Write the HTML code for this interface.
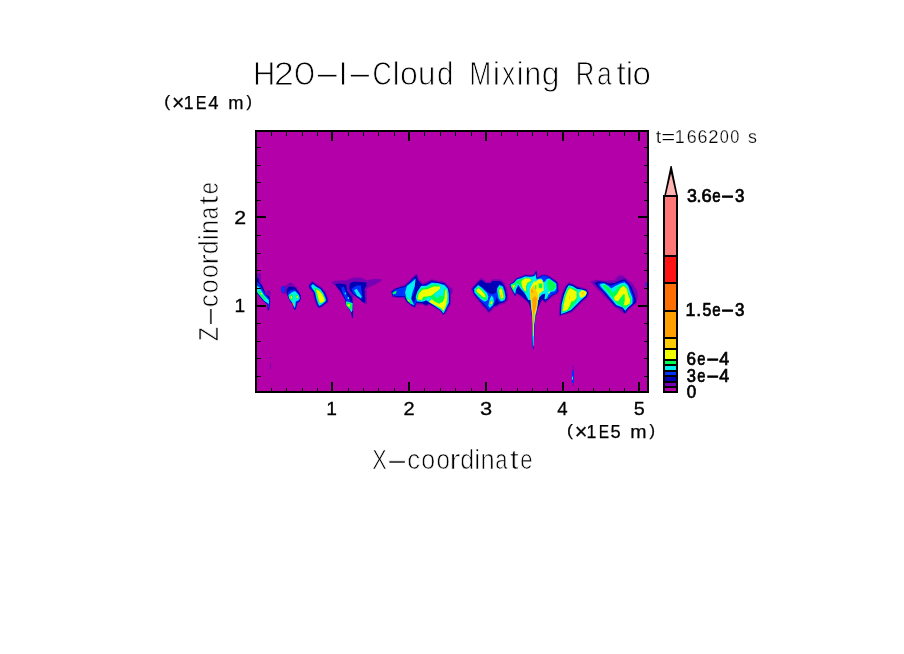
<!DOCTYPE html>
<html lang="en"><head><meta charset="utf-8"><title>H2O-I-Cloud Mixing Ratio</title>
<style>html,body{margin:0;padding:0;background:#fff;overflow:hidden}svg{display:block}text{white-space:pre}</style>
</head><body>
<svg width="904" height="654" viewBox="0 0 904 654" font-family="'Liberation Sans', Arial, sans-serif" fill="#000">
<rect width="904" height="654" fill="#fff"/>
<rect x="255" y="130" width="394" height="263" fill="#b400a8"/>
<g id="clouds">
<polygon fill="#7800b4" points="257.02,273.26 260.96,273.26 260.96,283.35 257.02,283.35"/>
<polygon fill="#7800b4" points="266.01,291.15 268.76,290.23 270.78,291.61 270.6,295.73 267.84,295.28"/>
<polygon fill="#0000b4" points="257.02,277.84 258.67,278.3 259.13,282.43 261.88,284.72 266.01,294.36 269.68,296.65 270.14,301.7 269.22,309.04 268.76,310.41 267.66,309.95 267.39,304.45 265.09,302.61 261.88,299.4 257.02,293.44"/>
<polygon fill="#0032ff" points="257.02,281.97 259.13,283.35 261.88,288.39 266.01,294.82 269.5,299.4 269.5,303.53 268.76,308.12 268.03,308.12 267.84,303.99 264.63,301.24 261.88,298.49 257.02,292.98"/>
<polygon fill="#00f0f0" points="257.02,285.92 259.13,287.02 264.17,295.28 268.94,300.32 268.94,303.99 267.39,303.07 264.17,300.78 260.5,296.19 257.02,292.06"/>
<polygon fill="#00ff50" points="258.21,290.69 260.5,291.15 265.09,298.03 266.47,300.32 264.63,299.86 261.42,296.65 258.67,293.44"/>
<polygon fill="#f0ff00" points="260.69,292.98 262.16,292.98 262.34,294.54 260.87,294.36"/>
<polygon fill="#7800b4" points="280.87,287.02 282.52,285.64 285.28,285.64 288.94,283.35 291.24,281.97 293.53,284.72 298.12,288.39 295.37,289.31 287.11,292.52 285.28,294.36 282.52,293.44 280.96,291.15"/>
<polygon fill="#0032ff" points="281.15,287.94 282.52,286.28 284.54,286.56 284.91,290.69 283.62,292.52 281.79,292.06"/>
<polygon fill="#0000b4" points="286.65,289.77 289.13,286.56 291.7,286.83 295.37,287.48 298.58,291.61 300.69,295.28 300.87,298.49 299.5,301.7 297.39,303.07 295.83,309.04 294.45,310.14 293.53,308.12 292.61,304.45 290.32,301.7 288.03,297.11 286.65,293.44"/>
<polygon fill="#0032ff" points="287.57,293.44 290.05,290.5 294.45,289.59 297.94,292.98 299.95,296.19 300.14,298.94 298.85,301.24 296.74,302.16 295.37,308.12 294.45,309.04 293.35,305.37 290.78,301.24 288.49,296.65"/>
<polygon fill="#00f0f0" points="288.49,295.28 291.51,292.52 293.53,291.61 295.37,291.15 298.85,295.09 299.77,298.49 298.12,300.6 295.83,301.24 295,307.66 293.99,306.74 292.16,302.61 289.13,298.49"/>
<polygon fill="#00ff50" points="289.4,295.73 291.7,293.9 293.07,295.28 292.8,300.32 291.7,301.24 289.86,298.49"/>
<polygon fill="#00ff50" points="295.83,294.36 298.12,295.28 298.58,298.49 296.74,299.13 295.83,297.11"/>
<polygon fill="#f0ff00" points="290.6,296.19 291.88,295.73 292.06,298.49 290.96,298.76"/>
<polygon fill="#f0ff00" points="296.47,295.73 297.94,296.19 297.94,297.84 296.74,297.84"/>
<polygon fill="#ffa000" points="292.8,303.07 293.99,303.07 293.99,305.37 292.98,305.18"/>
<polygon fill="#7800b4" points="308.21,285.64 312.34,281.06 316.47,283.81 321.97,287.48 325.64,292.06 328.39,298.94 328.21,302.16 323.35,306.28 319.22,308.58 316.65,305.83 314.17,298.94 312.8,292.52 309.31,288.85"/>
<polygon fill="#0000b4" points="309.13,285.64 312.34,281.97 315.55,284.72 321.06,287.94 324.72,292.52 327.48,298.94 327.48,301.7 322.89,305.37 319.22,307.66 317.39,305.37 315.09,298.94 313.72,292.52 310.05,288.39"/>
<polygon fill="#0032ff" points="310.05,285.92 312.61,283.17 315.55,285.64 320.6,288.67 323.99,292.98 326.74,299.13 326.56,301.33 322.52,304.63 319.4,306.74 317.94,305 315.73,298.76 314.45,292.34 310.96,288.12"/>
<polygon fill="#00f0f0" points="311.15,285.73 312.98,284.27 315.73,286.56 320.32,289.31 323.35,293.44 325.83,299.13 325.64,300.96 322.16,303.99 319.59,305.73 318.49,304.45 316.47,298.58 315.18,292.16 312.06,287.94"/>
<polygon fill="#00ff50" points="313.72,288.39 316.01,287.94 320.14,290.23 322.89,294.17 325.18,299.31 324.91,300.78 321.79,303.07 319.77,303.99 318.85,302.61 317.39,298.39 315.92,292.52"/>
<polygon fill="#f0ff00" points="316.01,289.59 319.22,290.69 322.43,294.54 324.54,299.13 324.27,301.51 321.24,302.8 319.4,302.43 318.49,298.94 317.39,294.36"/>
<polygon fill="#7800b4" points="331.33,281.97 335,280.41 346.01,280.14 353.35,277.39 361.61,277.39 366.19,280.14 375.37,278.76 381.79,279.22 380.87,281.33 375.37,284.45 368.94,287.2 366.65,289.04 366.93,303.99 364.54,303.99 360.69,300.32 353.81,295.73 352.89,301.7 353.17,304.63 346.93,303.72 343.26,296.38 338.67,289.04 335,285 331.33,283.35"/>
<polygon fill="#0000b4" points="335,284.08 339.59,283.62 346.01,284.54 347.11,290.69 351.7,297.11 353.07,303.53 353.07,317.75 352.06,317.75 350.6,311.33 346.01,304.91 344.91,299.13 340.5,291.79 336.65,287.02"/>
<polygon fill="#0032ff" points="341.24,287.48 343.81,286.83 347.11,295.28 350.78,301.7 352.25,311.33 348.76,305.55 346.01,300.05 342.34,292.52"/>
<polygon fill="#00f0f0" points="344.54,292.71 345.83,292.52 346.19,294.36 344.91,294.54"/>
<polygon fill="#00f0f0" points="347.66,296.93 348.94,296.93 349.22,299.13 347.84,298.94"/>
<polygon fill="#00f0f0" points="345.83,301.24 352.61,303.07 352.43,310.87 351.33,312.25 349.68,309.22 346.38,305.55"/>
<polygon fill="#00ff50" points="346.19,301.88 352.25,303.72 351.88,309.77 349.68,308.67 346.74,305.18"/>
<polygon fill="#f0ff00" points="347.29,303.9 350.23,304.45 349.68,307.02 347.84,305.92"/>
<polygon fill="#0000b4" points="350.14,283.35 354.27,281.51 366.19,282.43 366.65,285.18 364.36,288.85 365.46,301.88 363.44,302.8 359.77,299.13 353.35,294.54 349.68,289.77 349.22,286.1"/>
<polygon fill="#0032ff" points="351.51,288.85 356.1,285.64 360.87,285.18 361.79,292.52 362.71,299.13 358.85,297.29 353.35,293.62"/>
<polygon fill="#00f0f0" points="354.08,290.23 356.65,288.85 361.42,296.19 360.87,298.21 357.02,295.46"/>
<polygon fill="#7800b4" points="391.33,292.52 396.83,287.94 404.17,284.72 408.76,281.06 415.64,274.17 417.48,273.72 418.85,278.76 422.52,283.35 431.7,279.22 438.12,280.6 445,281.97 449.13,286.56 452.8,288.85 452.8,292.52 450.96,294.36 451.15,303.99 448.21,309.04 445.28,314.08 443.44,315.64 440.41,311.79 435.37,308.3 429.13,304.63 426.19,306.47 422.52,304.63 417.02,304.27 415,308.3 411.33,306.47 406.74,302.8 403.81,298.21 398.67,298.21 392.25,297.29"/>
<polygon fill="#0000b4" points="391.33,291.61 395,288.85 400.5,287.02 405.09,286.1 408.76,282.43 413.35,277.84 416.56,275.09 417.48,279.68 419.77,281.97 422.52,284.72 427.11,283.35 431.7,280.6 438.12,281.97 444.54,283.35 447.75,287.02 450.05,291.61 450.05,303.53 447.29,308.12 445,312.71 443.62,314.54 440.87,310.87 435.37,307.2 428.94,303.53 426.19,305.37 422.52,303.53 416.1,303.07 414.72,307.2 411.51,305.37 406.93,301.7 404.17,297.11 398.67,297.11 392.71,296.19"/>
<polygon fill="#0032ff" points="392.25,292.52 395,289.77 400.5,287.94 405.09,287.02 408.76,283.35 414.72,277.84 415.37,292.52 412.43,296.19 413.81,303.53 417.94,290.69 421.61,285.64 427.11,284.45 431.7,281.7 438.12,282.89 444.54,284.27 447.29,287.48 449.31,292.06 449.31,303.07 446.83,307.66 444.54,312.25 443.62,313.62 441.06,310.14 435.55,306.47 429.13,302.8 426.19,300.78 422.52,302.16 416.28,301.7 414.27,306.1 411.7,304.45 407.39,300.96 404.63,296.19 398.67,296.19 393.17,295.46"/>
<polygon fill="#0000b4" points="416.65,275.55 417.57,280.14 419.77,282.43 419.04,287.94 415.64,295.28 413.35,301.7 411.51,298.03 414.27,292.52 415.37,283.35"/>
<polygon fill="#00ff50" points="392.25,292.98 395,291.15 396.65,290.69 396.1,293.44 393.35,294.54"/>
<polygon fill="#00f0f0" points="405.09,292.52 406.93,286.1 411.51,282.43 415.64,278.76 414.72,286.1 412.43,292.52 411.06,298.94 413.35,303.53 413.81,305.37 410.6,303.53 406.93,299.86"/>
<polygon fill="#00ff50" points="405.55,295.73 408.76,298.94 411.97,302.61 411.15,304.08 407.39,300.78"/>
<polygon fill="#f0ff00" points="407.84,298.94 410.23,301.24 408.76,301.42"/>
<polygon fill="#00f0f0" points="415.64,297.11 417.48,291.61 421.15,286.1 426.19,286.1 431.7,282.89 438.12,283.35 444.54,285.18 447.75,288.85 448.67,294.36 448.67,302.61 446.38,307.2 443.62,313.17 440.87,309.95 435.37,306.28 429.86,302.61 426.19,300.32 423.9,301.24 421.61,301.7 417.02,301.24"/>
<polygon fill="#00ff50" points="416.56,297.11 418.39,292.52 421.61,287.94 426.19,287.48 432.61,284.27 439.04,284.72 440.87,287.02 444.54,287.94 446.83,290.69 447.75,301.7 445.46,307.2 443.62,311.79 440.87,309.04 435.37,305.37 430.32,301.7 427.11,298.94 423.9,299.86 421.61,300.78 417.48,300.32"/>
<polygon fill="#f0ff00" points="417.48,299.13 418.85,293.44 422.52,289.77 427.11,289.31 433.53,286.56 440.14,286.56 440.14,289.04 435.37,292.52 431.7,295.46 427.11,296.38 423.44,296.83 421.61,300.05"/>
<polygon fill="#00f0f0" points="434.45,293.44 439.04,290.69 440.87,285.92 444.54,286.56 443.81,291.61 442.71,296.38 439.95,295.28 437.2,298.21 435.37,297.29"/>
<polygon fill="#00f0f0" points="425.28,298.94 428.94,297.11 431.7,298.49 429.86,301.24 427.11,299.86"/>
<polygon fill="#f0ff00" points="428.94,301.88 431.7,299.13 435.37,301.88 439.04,303.72 442.71,301.7 444.54,298.03 445,290.69 446.38,289.04 447.29,296.19 446.38,303.53 445,308.12 443.62,310.87 440.87,308.12 435.37,305.37"/>
<polygon fill="#7800b4" points="470.96,288.85 476.01,282.89 481.06,277.39 486.56,281.97 490.69,281.51 492.52,279.22 500.32,279.22 504.45,282.89 506.74,288.39 508.12,295.28 508.12,300.32 504.45,303.99 499.4,304.63 497.57,306.47 494.17,307.39 490.23,312.25 487.94,312.89 486.1,309.5 482.89,306.74 478.3,300.96 473.07,294.82"/>
<polygon fill="#0000b4" points="472.34,288.85 476.93,283.35 481.06,279.68 486.1,283.35 490.69,283.35 492.52,281.06 499.86,281.06 503.53,284.27 505.37,288.85 506.74,295.28 506.28,299.86 503.53,302.61 498.94,303.53 497.11,305.37 493.44,306.28 489.77,310.87 488.39,311.79 487.02,309.04 483.35,305.37 478.76,299.86 474.17,294.36"/>
<polygon fill="#0032ff" points="473.44,288.85 477.84,284.45 481.7,286.83 487.02,291.61 489.77,293.44 492.52,294.36 496.19,292.52 497.11,287.02 499.86,284.08 503.17,286.1 505,290.69 505.92,296.19 505.37,299.86 502.61,301.7 498.94,301.88 496.65,297.29 495.28,301.7 493.62,305.37 489.95,309.22 488.12,310.14 487.02,307.2 483.35,303.53 478.76,298.94 474.54,293.62"/>
<polygon fill="#00f0f0" points="474.17,289.31 478.3,285.18 481.97,287.94 487.02,292.98 488.39,296.65 487.48,300.32 484.72,301.7 481.51,299.86 477.84,296.19 474.63,292.52"/>
<polygon fill="#00ff50" points="475.55,289.77 478.3,286.56 481.51,288.85 486.1,293.9 487.02,297.11 486.56,299.86 484.72,300.32 481.51,298.49 478.3,295.28 475.83,292.06"/>
<polygon fill="#f0ff00" points="476.47,290.23 478.3,287.94 481.06,290.23 484.72,294.36 485.64,297.29 483.35,297.29 480.14,294.54 476.93,292.06"/>
<polygon fill="#00f0f0" points="488.39,305.37 489.77,298.94 491.61,295.28 493.44,298.03 493.9,301.7 492.52,305.37 489.77,308.12"/>
<polygon fill="#00ff50" points="489.31,304.45 490.69,300.32 492.52,299.86 492.98,302.61 491.61,305.37"/>
<polygon fill="#f0ff00" points="490.23,303.53 491.15,301.24 492.52,301.7 492.06,303.99"/>
<polygon fill="#00f0f0" points="497.11,288.85 499.4,285.18 502.61,286.56 504.45,291.61 505.37,297.11 504.45,300.32 500.78,301.24 498.49,298.03 497.57,293.44"/>
<polygon fill="#00ff50" points="498.21,289.31 499.86,286.56 502.16,287.94 503.72,292.06 504.45,297.11 503.53,299.4 500.96,300.05 499.4,297.11 498.49,293.44"/>
<polygon fill="#f0ff00" points="499.13,290.23 500.78,287.94 502.16,290.23 503.07,294.36 503.53,297.57 501.7,298.94 500.32,296.65 499.68,293.44"/>
<polygon fill="#ffa000" points="500.78,294.82 501.7,294.82 501.7,296.65 500.78,296.65"/>
<polygon fill="#7800b4" points="509.26,284.26 513.13,281.55 516.23,277.68 520.49,276.36 525.13,274.35 530.55,274.81 534.04,274.04 535.35,271.1 536.9,270.17 537.52,277.14 539.85,275.59 542.94,274.04 547.2,274.81 550.3,276.36 553.63,278.84 556.73,280.78 558.59,283.1 558.59,287.98 559.36,291.62 556.73,294.48 553.47,296.03 549.6,299.13 545.42,303.23 542.17,300.14 540,301.68 539.07,307.1 528.23,303.23 524.75,299.9 520.18,296.03 516.77,293.94 514.91,297.04 512.12,291.62 510.03,287.75"/>
<polygon fill="#0000b4" points="510.03,284.26 513.52,282.33 516.62,278.45 520.49,277.29 525.13,275.36 530.55,275.74 534.43,274.97 535.59,271.87 536.75,271.1 537.14,278.07 539.85,276.52 542.94,274.97 546.82,275.74 549.91,277.29 553.01,279.62 556.11,281.55 557.66,283.49 557.66,288.13 558.43,291.23 556.11,293.55 553.01,295.1 549.14,298.2 545.27,302.07 542.17,298.97 539.07,300.52 538.3,306.72 536.75,311.36 535.82,318.02 532.1,318.02 531.33,311.36 530.17,306.72 528.23,302.07 525.13,298.97 520.49,295.1 516.62,292.78 515.07,295.88 512.74,291.23 510.81,287.36"/>
<polygon fill="#0032ff" points="510.27,284.42 513.67,282.71 516.77,279 520.64,277.83 525.13,275.9 530.55,276.29 534.27,275.51 535.66,273.42 536.59,278.84 539.85,277.29 542.94,275.59 546.82,276.36 549.76,277.91 552.86,280.23 555.72,281.94 557.04,283.87 557.04,288.13 557.66,291.08 555.72,292.93 552.62,294.48 548.75,297.43 545.42,300.91 543.33,297.43 540.23,298.59 539.07,299.75 537.91,306.72 536.36,311.36 535.35,318.02 532.49,318.02 531.72,311.36 530.55,306.72 528.62,301.45 525.52,298.35 520.87,294.48 517.78,290.46 516.62,291.23 515.45,295.1 513.13,290.92 511.04,287.2"/>
<polygon fill="#0000b4" points="516.46,289.29 518.32,286.2 521.26,290.07 524.75,293.94 527.61,298.97 529.16,302.46 528.23,302.07 525.13,298.97 520.49,295.1 516.62,292.78 515.53,294.72"/>
<polygon fill="#0000b4" points="539.46,297.43 542.17,294.72 545.27,293.94 544.88,298.97 545.42,301.3 542.17,298.82 539.07,300.37"/>
<polygon fill="#00f0f0" points="510.42,284.65 513.91,283.1 517,279.62 520.87,278.45 525.13,276.52 530.55,276.91 534.04,276.13 535.59,274.97 536.36,279.62 539.85,278.45 542.17,278.84 543.72,281.94 546.04,279.62 549.14,278.45 553.01,281.16 556.11,283.49 556.49,288.13 554.56,291.23 550.69,292 548.36,295.1 546.04,298.97 544.49,298.97 545.27,293.55 542.17,294.33 539.07,297.43 537.52,305.17 535.97,311.36 535.04,318.02 532.88,318.02 532.1,311.36 530.94,305.17 529.16,301.3 527.3,297.81 524.36,292.62 520.87,288.75 518.32,284.65 516,289.29 515.07,293.94 513.13,290.46 511.19,286.97"/>
<polygon fill="#0032ff" points="542.01,275.59 546.2,275.9 545.73,281.01 543.72,282.09 542.32,278.84"/>
<polygon fill="#00ff50" points="510.81,285.04 514.29,283.49 517.39,280.39 521.26,279.23 525.13,277.68 530.55,278.07 532.1,281.16 528.23,283.49 526.68,287.36 527.46,293.55 525.13,292 522.04,288.13 519.71,285.04 516.62,283.49 515.07,287.36 514.29,292 512.74,288.91"/>
<polygon fill="#f0ff00" points="521.26,281.55 524.36,278.45 529.78,278.45 531.33,280.39 527.46,282.71 525.91,286.58 526.29,291.23 524.36,290.46 522.04,286.58"/>
<polygon fill="#f0ff00" points="511.97,285.81 515.07,284.65 513.91,288.91"/>
<polygon fill="#f0ff00" points="529.78,289.68 532.1,284.26 534.04,281.16 535.82,281.55 538.3,279.62 541.39,279.62 543.33,282.71 543.72,290.46 541.39,292 539.07,294.33 538.45,300.52 537.52,306.72 536.36,312.14 535.35,318.02 533.03,318.02 532.26,312.14 531.17,306.72 530.4,298.97 529.93,292.78"/>
<polygon fill="#00ff50" points="538.3,283.49 542.17,283.49 542.17,288.29 539.07,288.29"/>
<polygon fill="#ffcc00" points="530.33,290.66 532.24,286.83 534.15,284.92 535.3,289.13 537.6,292.95 538.06,299.07 537.29,306.73 536.22,312.85 535,320.04 533.01,320.04 532.24,314.38 531.09,308.26 530.71,300.6 530.33,295.25"/>
<polygon fill="#ffa000" points="533.01,297.7 535.3,296.01 537.21,299.07 536.99,305.96 535.76,311.32 534.23,315.91 533.01,312.85 532.24,306.73 531.86,300.6"/>
<polygon fill="#ffa000" points="530.71,289.74 532.62,289.28 533.16,292.95 531.32,292.8"/>
<polygon fill="#00ff50" points="535.15,285.3 536.37,285.3 536.37,289.13 535.15,289.13"/>
<polygon fill="#00f0f0" points="535.53,274.59 536.14,274.59 536.14,281.48 535.53,281.48"/>
<polygon fill="#00ff50" points="546.82,283.49 548.36,279.62 551.46,280.39 555.33,283.49 555.72,287.36 553.01,290.46 549.14,291.23 547.59,288.13"/>
<polygon fill="#f0ff00" points="547.98,292.16 550.07,291.23 549.14,293.71"/>
<polygon fill="#00ff50" points="546.04,297.58 547.74,295.88 547.28,298.66"/>
<polygon fill="#0000b4" points="527.61,300 529.45,304.2 530.55,307.56 531.81,315.13 532.23,325.21 532.23,337.82 532.82,347.06 533.32,350.84 533.91,347.06 534.5,325.21 535.67,316.81 537.52,308.4 540.21,303.36 541.89,300"/>
<polygon fill="#0032ff" points="529.71,300 530.8,307.14 531.97,315.13 532.39,325.21 532.39,337.82 532.9,346.64 533.32,349.58 533.82,346.64 534.33,325.21 535.5,316.81 537.27,308.4 538.53,300"/>
<polygon fill="#00f0f0" points="530.55,300 531.13,307.14 532.23,315.13 532.56,325.21 532.56,336.97 532.98,345.8 533.66,345.8 534.08,325.21 535.17,316.81 537.02,308.4 538.11,300"/>
<polygon fill="#f0ff00" points="530.97,300 531.47,307.56 532.48,315.13 532.82,325.21 532.9,336.13 533.49,336.13 533.91,325.21 535,315.13 537.02,307.56 537.86,300"/>
<polygon fill="#ffcc00" points="531.22,300 531.64,307.98 532.82,313.87 533.07,325.21 533.15,331.93 533.57,331.93 533.74,325.21 534.83,313.45 537.02,307.14 537.69,300"/>
<polygon fill="#ffa000" points="532.23,300 532.65,308.4 533.24,313.45 533.4,325.21 533.66,325.21 534.5,312.61 536.01,306.72 536.68,300"/>
<polygon fill="#7800b4" points="558.87,316.67 559.42,304.5 561.64,294 565.18,285.7 568.83,282.16 572.7,283.49 577.12,286.25 581.55,287.36 586.53,288.46 589.51,292.89 587.63,297.65 582.21,302.29 577.79,306.72 572.15,312.25 566.06,314.68 561.08,315.79"/>
<polygon fill="#0000b4" points="559.98,315.57 560.53,304.5 562.74,294.55 566.06,286.81 568.83,283.49 572.7,284.59 577.12,287.36 581.55,288.46 585.97,289.57 588.19,292.89 586.53,296.76 581.55,301.19 577.12,305.61 571.59,311.14 566.06,313.35 561.64,314.46"/>
<polygon fill="#00f0f0" points="561.08,313.91 561.64,304.5 563.85,295.65 566.62,288.46 568.83,285.15 572.7,286.25 577.12,289.02 581.55,289.57 585.42,290.68 587.08,292.89 585.42,296.21 581,300.08 576.57,304.5 571.04,310.04 566.06,312.25"/>
<polygon fill="#00ff50" points="562.19,312.25 562.74,304.5 564.73,296.21 567.17,289.57 569.38,286.81 572.7,287.91 577.12,290.12 577.68,298.97 574.91,303.4 570.49,308.93 566.06,311.14"/>
<polygon fill="#f0ff00" points="562.74,311.14 563.63,304.5 565.51,296.76 567.72,290.68 569.93,287.91 572.7,289.57 576.57,291.78 576.57,297.87 573.81,301.19 571.59,301.19 569.38,306.72 567.17,310.04"/>
<polygon fill="#f0ff00" points="578.78,292.89 582.1,290.12 586.53,291.78 585.97,295.1 582.1,297.87 579.89,297.31"/>
<polygon fill="#ffcc00" points="581.88,291.78 583.54,291.78 583.54,294.55 581.88,294.55"/>
<polygon fill="#ffcc00" points="568.94,296.21 570.04,296.21 570.04,298.97 568.94,298.97"/>
<polygon fill="#7800b4" points="590.4,281.83 595.93,279.62 603.67,280.72 614.73,280.17 618.05,275.74 622.48,275.19 626.9,279.06 632.43,283.49 636.86,290.12 637.96,295.65 636.86,302.29 631.33,307.82 625.8,313.35 623.58,313.35 614.73,307.27 608.1,300.08 602.57,294.55 595.93,287.91"/>
<polygon fill="#0000b4" points="594.27,282.93 598.14,281.27 603.67,281.83 609.2,283.49 614.73,282.93 619.16,280.72 624.69,279.06 628.01,282.38 631.33,286.81 633.54,292.34 635.75,298.97 636.31,302.29 632.43,305.61 628.01,308.93 625.24,313.35 624.14,313.35 622.48,308.93 615.29,306.16 609.2,299.53 603.67,292.89 598.14,287.36"/>
<polygon fill="#0032ff" points="597.59,284.04 601.46,282.38 605.88,283.49 610.31,285.7 614.73,284.37 619.71,282.16 624.69,280.72 628.01,284.04 630.77,289.57 632.99,295.1 634.09,301.19 631.33,305.06 627.46,308.04 625.24,312.03 623.03,308.04 615.84,305.61 610.31,299.19 604.78,292.56 599.25,287.03"/>
<polygon fill="#00f0f0" points="599.8,284.59 603.67,283.27 608.1,285.7 611.42,288.46 614.73,286.25 620.27,283.49 624.69,282.38 628.01,285.7 630.22,292.34 632.43,297.87 632.43,303.4 628.01,307.27 625.24,310.59 622.48,307.27 616.39,305.06 611.42,298.97 605.88,292.34 600.91,286.81"/>
<polygon fill="#00ff50" points="602.57,285.15 605.33,284.59 609.2,287.91 611.97,290.68 616.95,287.36 621.37,285.15 624.69,284.59 627.46,287.91 629.12,293.44 631.33,298.97 630.77,303.4 627.46,306.16 624.69,308.38 621.37,305.61 616.95,303.4 613.08,298.42 608.1,292.34 604.23,287.91"/>
<polygon fill="#00f0f0" points="610.86,289.57 614.73,287.03 618.61,285.7 615.29,290.68 612.52,292.89"/>
<polygon fill="#f0ff00" points="613.63,297.87 616.95,294 620.27,288.46 623.58,285.7 626.9,289.02 628.01,294.55 630.22,300.08 629.67,303.4 626.9,305.06 623.58,305.61 624.69,300.08 624.14,294.55 621.37,296.76 618.05,301.19 615.29,300.63"/>
<polygon fill="#00ff50" points="619.16,301.19 623.58,294 624.69,294.55 624.14,304.5 621.37,303.4"/>
<polygon fill="#0032ff" points="645.49,282.38 646.81,282.38 646.81,287.03 645.49,287.03"/>
<polygon fill="#7800b4" points="572.59,365.14 573.69,365.14 573.69,385.51 572.59,385.51"/>
<polygon fill="#0032ff" points="571.93,370.64 573.91,370.64 573.91,382.97 571.93,382.97"/>
<polygon fill="#00f0f0" points="571.93,376.7 573.03,376.7 573.03,379.67 571.93,379.67"/>
<rect x="270" y="357" width="1" height="2" fill="#7800b4"/>
<rect x="270" y="363" width="1" height="6" fill="#7800b4"/>
</g>
<g fill="#000" shape-rendering="crispEdges">
<rect x="255" y="130" width="394" height="2" fill="#000"/>
<rect x="255" y="391" width="394" height="2" fill="#000"/>
<rect x="255" y="130" width="2" height="263" fill="#000"/>
<rect x="647" y="130" width="2" height="263" fill="#000"/>
<rect x="271" y="132" width="1" height="4" fill="#000"/>
<rect x="271" y="388" width="1" height="3" fill="#000"/>
<rect x="286" y="132" width="1" height="4" fill="#000"/>
<rect x="286" y="388" width="1" height="3" fill="#000"/>
<rect x="302" y="132" width="1" height="4" fill="#000"/>
<rect x="302" y="388" width="1" height="3" fill="#000"/>
<rect x="317" y="132" width="1" height="4" fill="#000"/>
<rect x="317" y="388" width="1" height="3" fill="#000"/>
<rect x="331" y="132" width="2" height="9" fill="#000"/>
<rect x="331" y="382" width="2" height="9" fill="#000"/>
<rect x="348" y="132" width="1" height="4" fill="#000"/>
<rect x="348" y="388" width="1" height="3" fill="#000"/>
<rect x="363" y="132" width="1" height="4" fill="#000"/>
<rect x="363" y="388" width="1" height="3" fill="#000"/>
<rect x="378" y="132" width="1" height="4" fill="#000"/>
<rect x="378" y="388" width="1" height="3" fill="#000"/>
<rect x="394" y="132" width="1" height="4" fill="#000"/>
<rect x="394" y="388" width="1" height="3" fill="#000"/>
<rect x="408" y="132" width="2" height="9" fill="#000"/>
<rect x="408" y="382" width="2" height="9" fill="#000"/>
<rect x="424" y="132" width="1" height="4" fill="#000"/>
<rect x="424" y="388" width="1" height="3" fill="#000"/>
<rect x="440" y="132" width="1" height="4" fill="#000"/>
<rect x="440" y="388" width="1" height="3" fill="#000"/>
<rect x="455" y="132" width="1" height="4" fill="#000"/>
<rect x="455" y="388" width="1" height="3" fill="#000"/>
<rect x="471" y="132" width="1" height="4" fill="#000"/>
<rect x="471" y="388" width="1" height="3" fill="#000"/>
<rect x="485" y="132" width="2" height="9" fill="#000"/>
<rect x="485" y="382" width="2" height="9" fill="#000"/>
<rect x="501" y="132" width="1" height="4" fill="#000"/>
<rect x="501" y="388" width="1" height="3" fill="#000"/>
<rect x="517" y="132" width="1" height="4" fill="#000"/>
<rect x="517" y="388" width="1" height="3" fill="#000"/>
<rect x="532" y="132" width="1" height="4" fill="#000"/>
<rect x="532" y="388" width="1" height="3" fill="#000"/>
<rect x="547" y="132" width="1" height="4" fill="#000"/>
<rect x="547" y="388" width="1" height="3" fill="#000"/>
<rect x="562" y="132" width="2" height="9" fill="#000"/>
<rect x="562" y="382" width="2" height="9" fill="#000"/>
<rect x="578" y="132" width="1" height="4" fill="#000"/>
<rect x="578" y="388" width="1" height="3" fill="#000"/>
<rect x="593" y="132" width="1" height="4" fill="#000"/>
<rect x="593" y="388" width="1" height="3" fill="#000"/>
<rect x="609" y="132" width="1" height="4" fill="#000"/>
<rect x="609" y="388" width="1" height="3" fill="#000"/>
<rect x="624" y="132" width="1" height="4" fill="#000"/>
<rect x="624" y="388" width="1" height="3" fill="#000"/>
<rect x="638" y="132" width="2" height="9" fill="#000"/>
<rect x="638" y="382" width="2" height="9" fill="#000"/>
<rect x="257" y="376" width="4" height="1" fill="#000"/>
<rect x="644" y="376" width="3" height="1" fill="#000"/>
<rect x="257" y="358" width="4" height="1" fill="#000"/>
<rect x="644" y="358" width="3" height="1" fill="#000"/>
<rect x="257" y="341" width="4" height="1" fill="#000"/>
<rect x="644" y="341" width="3" height="1" fill="#000"/>
<rect x="257" y="323" width="4" height="1" fill="#000"/>
<rect x="644" y="323" width="3" height="1" fill="#000"/>
<rect x="257" y="305" width="9" height="2" fill="#000"/>
<rect x="638" y="305" width="9" height="2" fill="#000"/>
<rect x="257" y="288" width="4" height="1" fill="#000"/>
<rect x="644" y="288" width="3" height="1" fill="#000"/>
<rect x="257" y="270" width="4" height="1" fill="#000"/>
<rect x="644" y="270" width="3" height="1" fill="#000"/>
<rect x="257" y="253" width="4" height="1" fill="#000"/>
<rect x="644" y="253" width="3" height="1" fill="#000"/>
<rect x="257" y="235" width="4" height="1" fill="#000"/>
<rect x="644" y="235" width="3" height="1" fill="#000"/>
<rect x="257" y="216" width="9" height="2" fill="#000"/>
<rect x="638" y="216" width="9" height="2" fill="#000"/>
<rect x="257" y="200" width="4" height="1" fill="#000"/>
<rect x="644" y="200" width="3" height="1" fill="#000"/>
<rect x="257" y="182" width="4" height="1" fill="#000"/>
<rect x="644" y="182" width="3" height="1" fill="#000"/>
<rect x="257" y="165" width="4" height="1" fill="#000"/>
<rect x="644" y="165" width="3" height="1" fill="#000"/>
<rect x="257" y="147" width="4" height="1" fill="#000"/>
<rect x="644" y="147" width="3" height="1" fill="#000"/>
</g>
<g shape-rendering="crispEdges">
<rect x="663" y="195" width="15" height="198" fill="#000"/>
<rect x="665" y="197" width="11" height="58" fill="#ff7878"/>
<rect x="665" y="257" width="11" height="25" fill="#ff1414"/>
<rect x="665" y="284" width="11" height="26" fill="#ff6e00"/>
<rect x="665" y="312" width="11" height="25" fill="#ffa000"/>
<rect x="665" y="339" width="11" height="9" fill="#ffcc00"/>
<rect x="665" y="350" width="11" height="9" fill="#f0ff00"/>
<rect x="665" y="361" width="11" height="3" fill="#00ff50"/>
<rect x="665" y="366" width="11" height="4" fill="#00f0f0"/>
<rect x="665" y="372" width="11" height="3" fill="#0032ff"/>
<rect x="665" y="377" width="11" height="4" fill="#0000b4"/>
<rect x="665" y="383" width="11" height="3" fill="#7800b4"/>
<rect x="665" y="388" width="11" height="3" fill="#b400a8"/>
</g>
<polygon points="664,197 670.5,166 671.7,166 678,197" fill="#000"/>
<polygon points="666,195 670.9,174 671.2,174 676,195" fill="#ffb4b4"/>
<text transform="translate(0 85.3)" x="252.93 274.08 294.31 313.08 338.44 345.95 372.6 392.47 400.05 417.89 436.92 456.84 469.52 492.67 501.95 516.52 524.38 541.76 561.68 575.65 596.92 616.38 625.72 632.57" y="0" font-size="33.2" stroke="#fff" stroke-width="0.9"><tspan textLength="22.34" lengthAdjust="spacingAndGlyphs">H</tspan><tspan textLength="19.81" lengthAdjust="spacingAndGlyphs">2</tspan><tspan textLength="20.59" lengthAdjust="spacingAndGlyphs">O</tspan><tspan textLength="28.46" lengthAdjust="spacingAndGlyphs">-</tspan>I<tspan textLength="27.71" lengthAdjust="spacingAndGlyphs">-</tspan><tspan textLength="19.28" lengthAdjust="spacingAndGlyphs">C</tspan>l<tspan textLength="17.8" lengthAdjust="spacingAndGlyphs">o</tspan><tspan textLength="17.42" lengthAdjust="spacingAndGlyphs">u</tspan><tspan textLength="16.49" lengthAdjust="spacingAndGlyphs">d</tspan> <tspan textLength="21.69" lengthAdjust="spacingAndGlyphs">M</tspan>i<tspan textLength="13.1" lengthAdjust="spacingAndGlyphs">x</tspan>i<tspan textLength="16.65" lengthAdjust="spacingAndGlyphs">n</tspan><tspan textLength="17.68" lengthAdjust="spacingAndGlyphs">g</tspan> <tspan textLength="18.49" lengthAdjust="spacingAndGlyphs">R</tspan><tspan textLength="14.76" lengthAdjust="spacingAndGlyphs">a</tspan>tio</text>
<text transform="translate(0 108.5)" x="164.3 172.09 183.63 195.86 208.34 218.96 228.18 246.43" y="-1.8 1.4 0 0 0 0 0 -1.8" font-size="17.7" stroke="#000" stroke-width="0.25"><tspan font-size="15.66" textLength="5.86" lengthAdjust="spacingAndGlyphs">(</tspan><tspan font-size="21.59" textLength="12.44" lengthAdjust="spacingAndGlyphs">×</tspan>1<tspan textLength="10.79" lengthAdjust="spacingAndGlyphs">E</tspan><tspan textLength="10.3" lengthAdjust="spacingAndGlyphs">4</tspan> <tspan textLength="15.24" lengthAdjust="spacingAndGlyphs">m</tspan><tspan font-size="15.66" textLength="5.39" lengthAdjust="spacingAndGlyphs">)</tspan></text>
<text transform="translate(0 438)" x="567.1 574.67 586.53 598.72 610.55 621.17 630.3 649.42" y="-1.8 1.4 0 0 0 0 0 -1.8" font-size="17.7" stroke="#000" stroke-width="0.25"><tspan font-size="15.66" textLength="5.86" lengthAdjust="spacingAndGlyphs">(</tspan><tspan font-size="21.59" textLength="12.69" lengthAdjust="spacingAndGlyphs">×</tspan>1<tspan textLength="10.31" lengthAdjust="spacingAndGlyphs">E</tspan><tspan textLength="10.16" lengthAdjust="spacingAndGlyphs">5</tspan> <tspan textLength="16.28" lengthAdjust="spacingAndGlyphs">m</tspan><tspan font-size="15.66" textLength="5.51" lengthAdjust="spacingAndGlyphs">)</tspan></text>
<text transform="translate(0 143.1)" x="655.88 661.35 674.73 686.67 697.62 708.31 719.77 730.37 741.11 748.01" y="0" font-size="17.9" stroke="#fff" stroke-width="0.25"><tspan textLength="5.48" lengthAdjust="spacingAndGlyphs">t</tspan><tspan textLength="13.96" lengthAdjust="spacingAndGlyphs">=</tspan>166<tspan textLength="10.26" lengthAdjust="spacingAndGlyphs">2</tspan><tspan textLength="9.07" lengthAdjust="spacingAndGlyphs">0</tspan><tspan textLength="9.07" lengthAdjust="spacingAndGlyphs">0</tspan> s</text>
<text transform="translate(0 469.3)" x="372.31 385.33 407.14 421.17 436.6 449.6 460.27 474.2 480.46 495.26 509.85 520.16" y="0" font-size="27" stroke="#fff" stroke-width="0.7"><tspan textLength="14.47" lengthAdjust="spacingAndGlyphs">X</tspan><tspan textLength="23.69" lengthAdjust="spacingAndGlyphs">-</tspan><tspan textLength="12.91" lengthAdjust="spacingAndGlyphs">c</tspan><tspan textLength="13.89" lengthAdjust="spacingAndGlyphs">o</tspan><tspan textLength="13.43" lengthAdjust="spacingAndGlyphs">o</tspan><tspan textLength="10.91" lengthAdjust="spacingAndGlyphs">r</tspan><tspan textLength="13.88" lengthAdjust="spacingAndGlyphs">d</tspan>i<tspan textLength="14.11" lengthAdjust="spacingAndGlyphs">n</tspan><tspan textLength="12.25" lengthAdjust="spacingAndGlyphs">a</tspan><tspan textLength="9.09" lengthAdjust="spacingAndGlyphs">t</tspan><tspan textLength="12.29" lengthAdjust="spacingAndGlyphs">e</tspan></text>
<text transform="translate(218.3 340) rotate(-90)" x="-0.96 12.01 32.64 46.67 62.1 75.1 85.77 99.7 105.96 120.76 135.35 145.66" y="0" font-size="27" stroke="#fff" stroke-width="0.7"><tspan textLength="13.9" lengthAdjust="spacingAndGlyphs">Z</tspan><tspan textLength="22.82" lengthAdjust="spacingAndGlyphs">-</tspan><tspan textLength="12.91" lengthAdjust="spacingAndGlyphs">c</tspan><tspan textLength="13.89" lengthAdjust="spacingAndGlyphs">o</tspan><tspan textLength="13.43" lengthAdjust="spacingAndGlyphs">o</tspan><tspan textLength="10.91" lengthAdjust="spacingAndGlyphs">r</tspan><tspan textLength="13.88" lengthAdjust="spacingAndGlyphs">d</tspan>i<tspan textLength="14.11" lengthAdjust="spacingAndGlyphs">n</tspan><tspan textLength="12.25" lengthAdjust="spacingAndGlyphs">a</tspan><tspan textLength="9.09" lengthAdjust="spacingAndGlyphs">t</tspan><tspan textLength="12.29" lengthAdjust="spacingAndGlyphs">e</tspan></text>
<text transform="translate(0 415)" x="326.2" y="0" font-size="19.2" stroke="#000" stroke-width="0.3">1</text>
<text transform="translate(0 415)" x="403.51" y="0" font-size="19.2" stroke="#000" stroke-width="0.3"><tspan textLength="11.15" lengthAdjust="spacingAndGlyphs">2</tspan></text>
<text transform="translate(0 415)" x="480.07" y="0" font-size="19.2" stroke="#000" stroke-width="0.3"><tspan textLength="12.17" lengthAdjust="spacingAndGlyphs">3</tspan></text>
<text transform="translate(0 415)" x="557.26" y="0" font-size="19.2" stroke="#000" stroke-width="0.3"><tspan textLength="10.35" lengthAdjust="spacingAndGlyphs">4</tspan></text>
<text transform="translate(0 415)" x="633.73" y="0" font-size="19.2" stroke="#000" stroke-width="0.3"><tspan textLength="11.02" lengthAdjust="spacingAndGlyphs">5</tspan></text>
<text transform="translate(0 224)" x="234.25" y="0" font-size="19.2" stroke="#000" stroke-width="0.3"><tspan textLength="11.86" lengthAdjust="spacingAndGlyphs">2</tspan></text>
<text transform="translate(0 312.2)" x="234.4" y="0" font-size="19.2" stroke="#000" stroke-width="0.3">1</text>
<text transform="translate(0 201.8)" x="686.88 696.44 701.59 712.18 721.13 735.12" y="0" font-size="17.8" stroke="#000" stroke-width="0.7">3.<tspan textLength="10.2" lengthAdjust="spacingAndGlyphs">6</tspan><tspan textLength="8.38" lengthAdjust="spacingAndGlyphs">e</tspan><tspan textLength="13.04" lengthAdjust="spacingAndGlyphs">-</tspan><tspan textLength="9.42" lengthAdjust="spacingAndGlyphs">3</tspan></text>
<text transform="translate(0 315.9)" x="685.5 696.24 702.45 712.18 721.13 735.12" y="0" font-size="17.8" stroke="#000" stroke-width="0.7">1.<tspan textLength="8.84" lengthAdjust="spacingAndGlyphs">5</tspan><tspan textLength="8.38" lengthAdjust="spacingAndGlyphs">e</tspan><tspan textLength="13.04" lengthAdjust="spacingAndGlyphs">-</tspan><tspan textLength="9.42" lengthAdjust="spacingAndGlyphs">3</tspan></text>
<text transform="translate(0 365.3)" x="686.45 697.29 706.24 719.18" y="0" font-size="17.8" stroke="#000" stroke-width="0.7"><tspan textLength="9.49" lengthAdjust="spacingAndGlyphs">6</tspan><tspan textLength="8.15" lengthAdjust="spacingAndGlyphs">e</tspan><tspan textLength="12.91" lengthAdjust="spacingAndGlyphs">-</tspan>4</text>
<text transform="translate(0 381.8)" x="686.73 697.29 706.24 719.18" y="0" font-size="17.8" stroke="#000" stroke-width="0.7"><tspan textLength="9.19" lengthAdjust="spacingAndGlyphs">3</tspan><tspan textLength="8.15" lengthAdjust="spacingAndGlyphs">e</tspan><tspan textLength="12.91" lengthAdjust="spacingAndGlyphs">-</tspan>4</text>
<text transform="translate(0 398.1)" x="686.72" y="0" font-size="17.8" stroke="#000" stroke-width="0.7"><tspan textLength="9.45" lengthAdjust="spacingAndGlyphs">0</tspan></text>
</svg>
</body></html>
